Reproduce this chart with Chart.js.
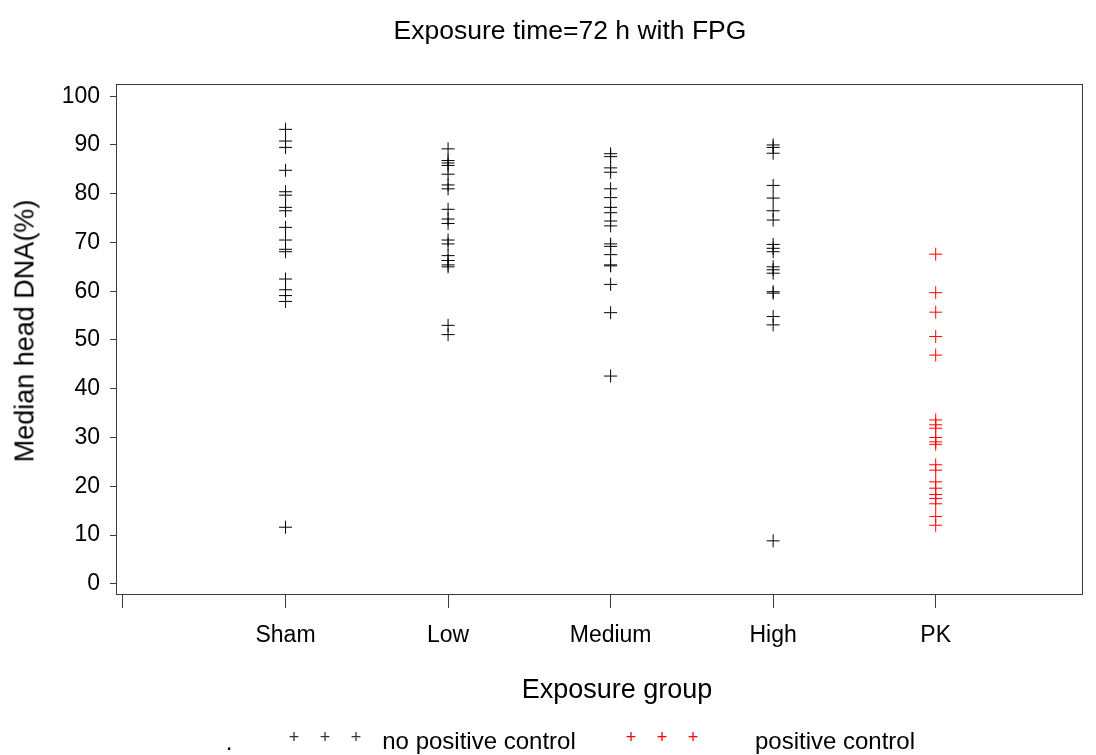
<!DOCTYPE html>
<html>
<head>
<meta charset="utf-8">
<script src="https://cdn.jsdelivr.net/npm/chart.js@4.4.0/dist/chart.umd.min.js"></script>
<style>
  body { margin: 0; background: #fff; font-family: "Liberation Sans", Arial, sans-serif; }
  #wrap { position: relative; width: 1096px; height: 755px; }
  .lbl { position: absolute; white-space: nowrap; color: #000; transform: translate(-50%, -50%); }
  .rot { transform: translate(-50%, -50%) rotate(-90deg); }
</style>
</head>
<body>
<div id="wrap">
  <canvas id="chart" width="1096" height="755"></canvas>
  <div class="lbl" style="left:570px; top:30px; font-size:26.5px;">Exposure time=72 h with FPG</div>
  <div class="lbl rot" style="left:25px; top:331px; font-size:27px;">Median head DNA(%)</div>
  <div class="lbl" style="left:617px; top:689px; font-size:27px;">Exposure group</div>
  <div class="lbl" style="left:229px; top:742px; font-size:24px;">.</div>
  <div class="lbl" style="left:294px; top:737px; font-size:18px; color:#333;">+</div>
  <div class="lbl" style="left:325px; top:737px; font-size:18px; color:#333;">+</div>
  <div class="lbl" style="left:356px; top:737px; font-size:18px; color:#333;">+</div>
  <div class="lbl" style="left:479px; top:741px; font-size:24px;">no positive control</div>
  <div class="lbl" style="left:631px; top:737px; font-size:18px; color:#ff0000;">+</div>
  <div class="lbl" style="left:662px; top:737px; font-size:18px; color:#ff0000;">+</div>
  <div class="lbl" style="left:693px; top:737px; font-size:18px; color:#ff0000;">+</div>
  <div class="lbl" style="left:835px; top:741px; font-size:24px;">positive control</div>
</div>
<script>
// exposure groups, placed at x = 1..5
var groups = ['Sham', 'Low', 'Medium', 'High', 'PK'];
var xTickLabels = ['', 'Sham', 'Low', 'Medium', 'High', 'PK'];
var yTicks = [0, 10, 20, 30, 40, 50, 60, 70, 80, 90, 100];

// median head DNA (%) per slide
var sham = [93.2, 90.8, 89.5, 84.8, 80.4, 79.7, 77.2, 76.5, 73.1, 70.5, 68.6, 68.1, 62.5, 60.3, 59.1, 57.9, 11.6];
var low = [89.2, 86.8, 86.3, 85.8, 84.0, 81.8, 81.0, 76.8, 74.8, 73.9, 70.5, 69.7, 67.3, 66.3, 65.4, 65.0, 53.0, 51.1];
var medium = [88.2, 87.6, 85.3, 84.4, 81.0, 79.2, 77.2, 76.1, 74.4, 73.4, 69.7, 69.2, 67.5, 65.4, 65.2, 61.4, 55.6, 42.6];
var high = [90.0, 89.5, 88.3, 81.7, 79.1, 76.5, 74.6, 69.6, 68.8, 68.1, 65.0, 64.4, 63.7, 59.9, 59.6, 54.8, 53.1, 8.8];
var pk = [67.6, 59.7, 55.7, 50.7, 46.9, 33.6, 32.6, 31.9, 30.0, 29.1, 28.6, 24.4, 23.3, 20.9, 19.6, 18.3, 17.5, 16.4, 13.8, 12.0];

function toPoints(values, groupIndex) {
  return values.map(function (v) { return { x: groupIndex + 1, y: v }; });
}

var noPositive = []
  .concat(toPoints(sham, 0))
  .concat(toPoints(low, 1))
  .concat(toPoints(medium, 2))
  .concat(toPoints(high, 3));
var positive = toPoints(pk, 4);

var font = { family: '"Liberation Sans", Arial, sans-serif', size: 23 };
var axisColor = '#3c3c3c';

// box around the plot area
var frame = {
  id: 'frame',
  afterDraw: function (chart) {
    var a = chart.chartArea, ctx = chart.ctx;
    ctx.save();
    ctx.strokeStyle = axisColor;
    ctx.lineWidth = 1;
    ctx.strokeRect(Math.round(a.left) + 0.5, Math.round(a.top) + 0.5, Math.round(a.right - a.left), Math.round(a.bottom - a.top));
    ctx.restore();
  }
};

var ctx = document.getElementById('chart');
var chart = new Chart(ctx, {
  type: 'scatter',
  data: {
    datasets: [{
      label: 'no positive control',
      data: noPositive,
      pointStyle: 'cross',
      pointRadius: 6.5,
      pointHoverRadius: 6.5,
      borderColor: '#000',
      borderWidth: 1
    }, {
      label: 'positive control',
      data: positive,
      pointStyle: 'cross',
      pointRadius: 6.5,
      pointHoverRadius: 6.5,
      borderColor: '#ff0000',
      borderWidth: 1
    }]
  },
  options: {
    responsive: false,
    animation: false,
    layout: { padding: { top: 84, right: 14, bottom: 0, left: 0 } },
    plugins: {
      legend: { display: false },
      title: { display: false },
      tooltip: { enabled: false }
    },
    scales: {
      x: {
        type: 'linear',
        min: -0.043,
        max: 5.9,
        afterFit: function (s) { s.height = 161; },
        grid: { drawOnChartArea: false, tickLength: 14, color: axisColor },
        border: { color: axisColor },
        ticks: {
          stepSize: 1,
          includeBounds: false,
          autoSkip: false,
          maxRotation: 0,
          color: '#000',
          font: font,
          padding: 14,
          callback: function (v) { return xTickLabels[v] || ''; }
        }
      },
      y: {
        min: -2.1,
        max: 102.5,
        afterFit: function (s) { s.width = 116; },
        afterBuildTicks: function (s) { s.ticks = yTicks.map(function (v) { return { value: v }; }); },
        grid: { drawOnChartArea: false, tickLength: 6, color: axisColor },
        border: { color: axisColor },
        ticks: { color: '#000', font: font, padding: 10 }
      }
    }
  },
  plugins: [frame]
});
</script>
</body>
</html>
